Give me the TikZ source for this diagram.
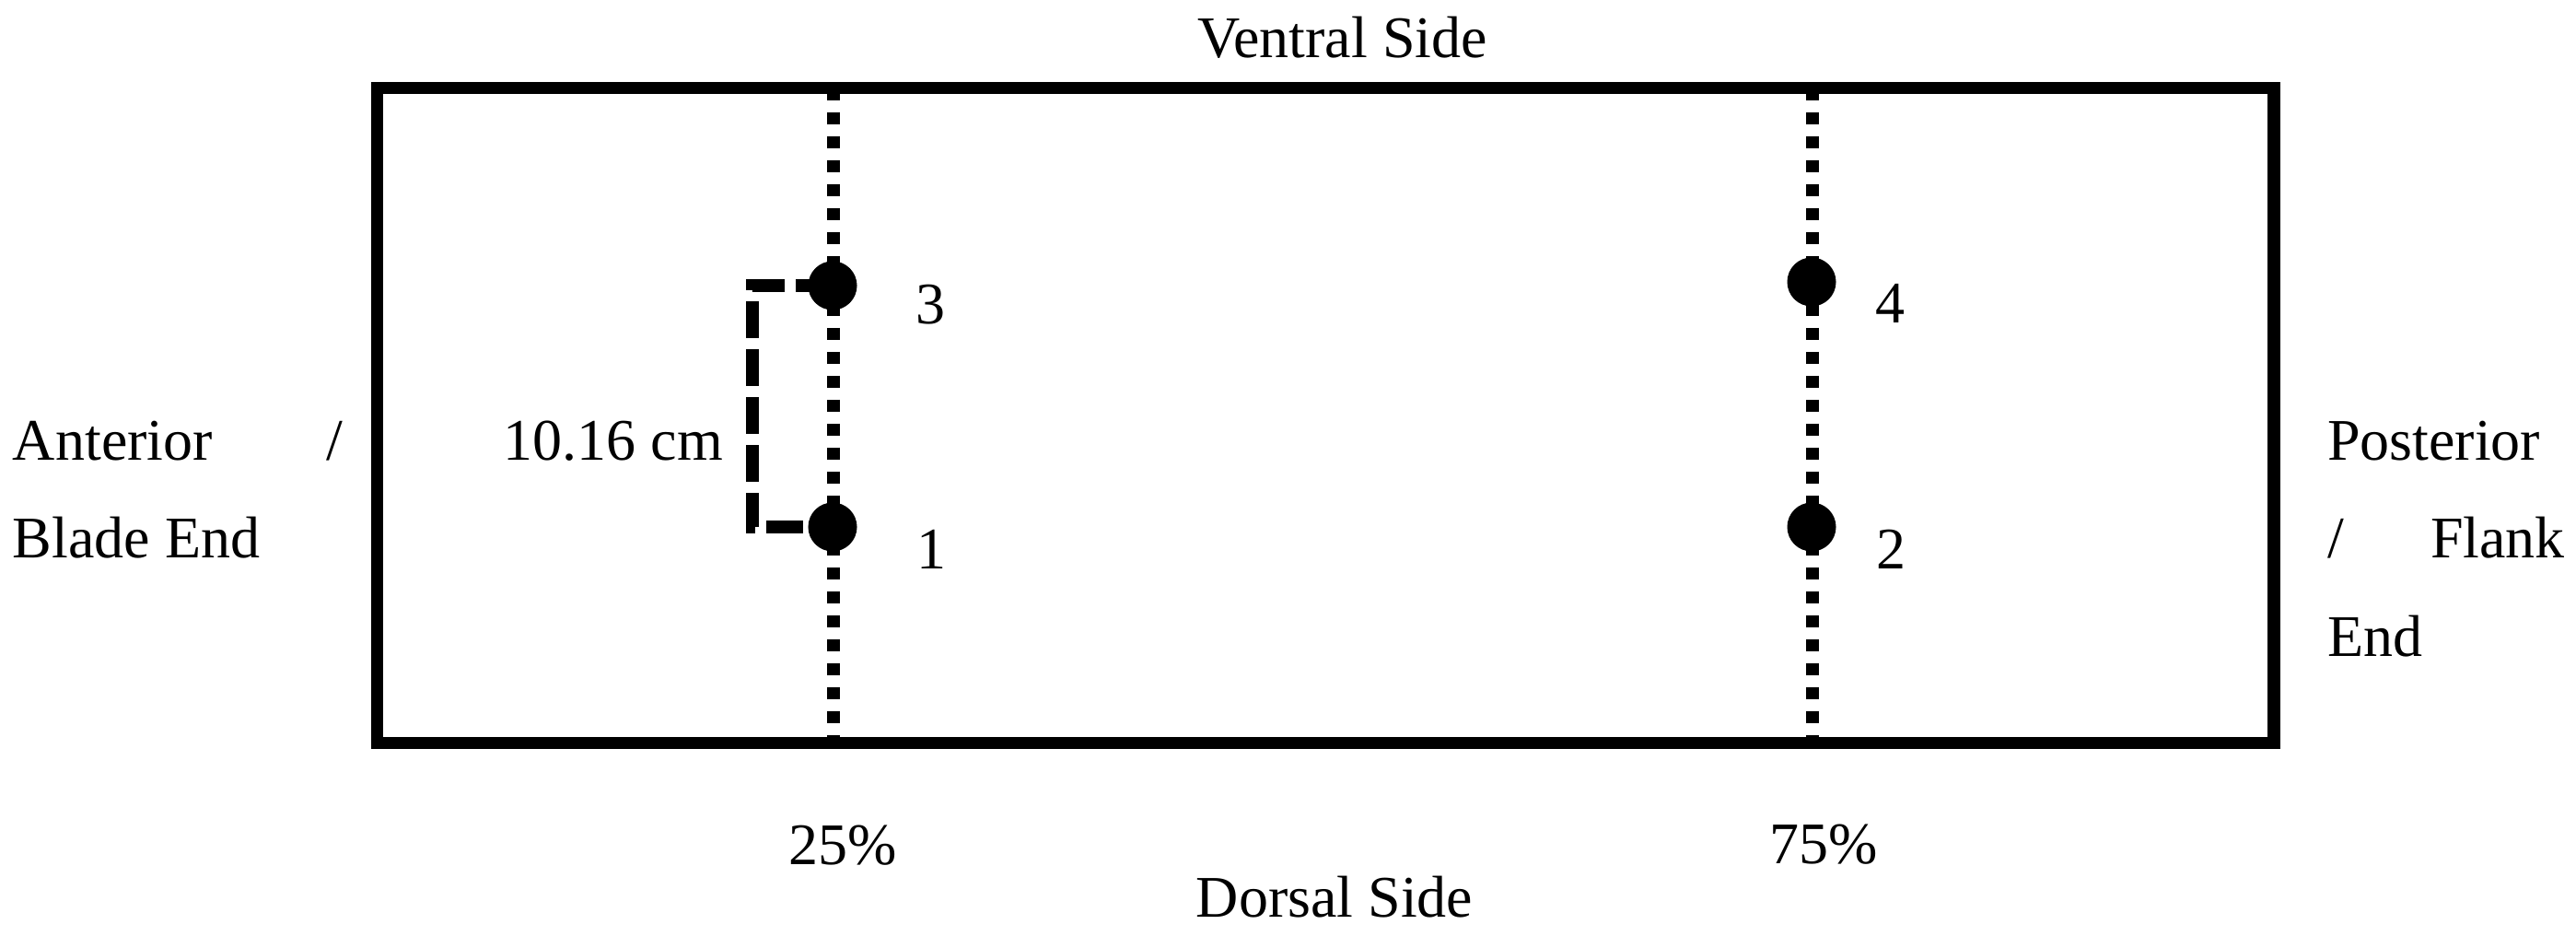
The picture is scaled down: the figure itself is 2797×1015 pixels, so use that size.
\documentclass[tikz,border=0pt]{standalone}
\usepackage{fontspec}
\setmainfont{Liberation Serif}
\begin{document}
\begin{tikzpicture}[x=0.01cm,y=-0.01cm,
  every node/.style={font=\fontsize{18.2pt}{21pt}\selectfont, inner sep=0pt, outer sep=0pt},
  frame/.style={line width=0.135cm},
  dotline/.style={line width=0.134cm, dash pattern=on 0.13cm off 0.13cm},
  bracketline/.style={line width=0.135cm, dash pattern=on 0.40cm off 0.12cm},
  dot/.style={circle, fill=black, minimum size=0.53cm},
  lbl/.style={anchor=base},
  lblw/.style={anchor=base west},
  lble/.style={anchor=base east}]
\fill[white] (0,0) rectangle (2797,1015);
\useasboundingbox (0,0) rectangle (2797,1015);
% frame
\coordinate (tl) at (409.5,95.7);
\coordinate (br) at (2469,806.7);
\draw[frame] (tl) rectangle (br);
% dotted lines
\coordinate (t25) at (905,95.7);
\coordinate (b25) at (905,806.7);
\coordinate (t75) at (1968,95.7);
\coordinate (b75) at (1968,806.7);
\draw[dotline] (t25) -- (b25);
\draw[dotline] (t75) -- (b75);
% point positions
\coordinate (p3) at (904,310);
\coordinate (p1) at (904,572);
\coordinate (p4) at (1967,306);
\coordinate (p2) at (1967,572);
% bracket
\coordinate (bk) at (817,310);
\draw[bracketline] (p3) -- (bk) |- (p1);
% points
\node[dot] (c3) at (p3) {};
\node[dot] (c1) at (p1) {};
\node[dot] (c4) at (p4) {};
\node[dot] (c2) at (p2) {};
% point labels
\node[lbl] (n3) at (1010.5,351) {3};
\node[lbl] (n1) at (1011.5,617) {1};
\node[lbl] (n4) at (2052,350) {4};
\node[lbl] (n2) at (2053,617) {2};
\node[lble] (dist) at (785,499) {10.16 cm};
% side labels
\node[lbl] (ventral) at (1457.5,62) {Ventral Side};
\node[lbl] (dorsal) at (1449,995) {Dorsal Side};
\node[lbl] (p25) at (915.5,938) {25\%};
\node[lbl] (p75) at (1980,937) {75\%};
\node[lblw] (ant) at (14,499) {Anterior};
\node[lblw] (antsl) at (354,499) {/};
\node[lblw] (blade) at (14,605) {Blade End};
\node[lblw] (post) at (2527,499) {Posterior};
\node[lblw] (postsl) at (2527,605) {/};
\node[lblw] (flank) at (2639,605) {Flank};
\node[lblw] (pend) at (2527,712) {End};
\end{tikzpicture}
\end{document}
